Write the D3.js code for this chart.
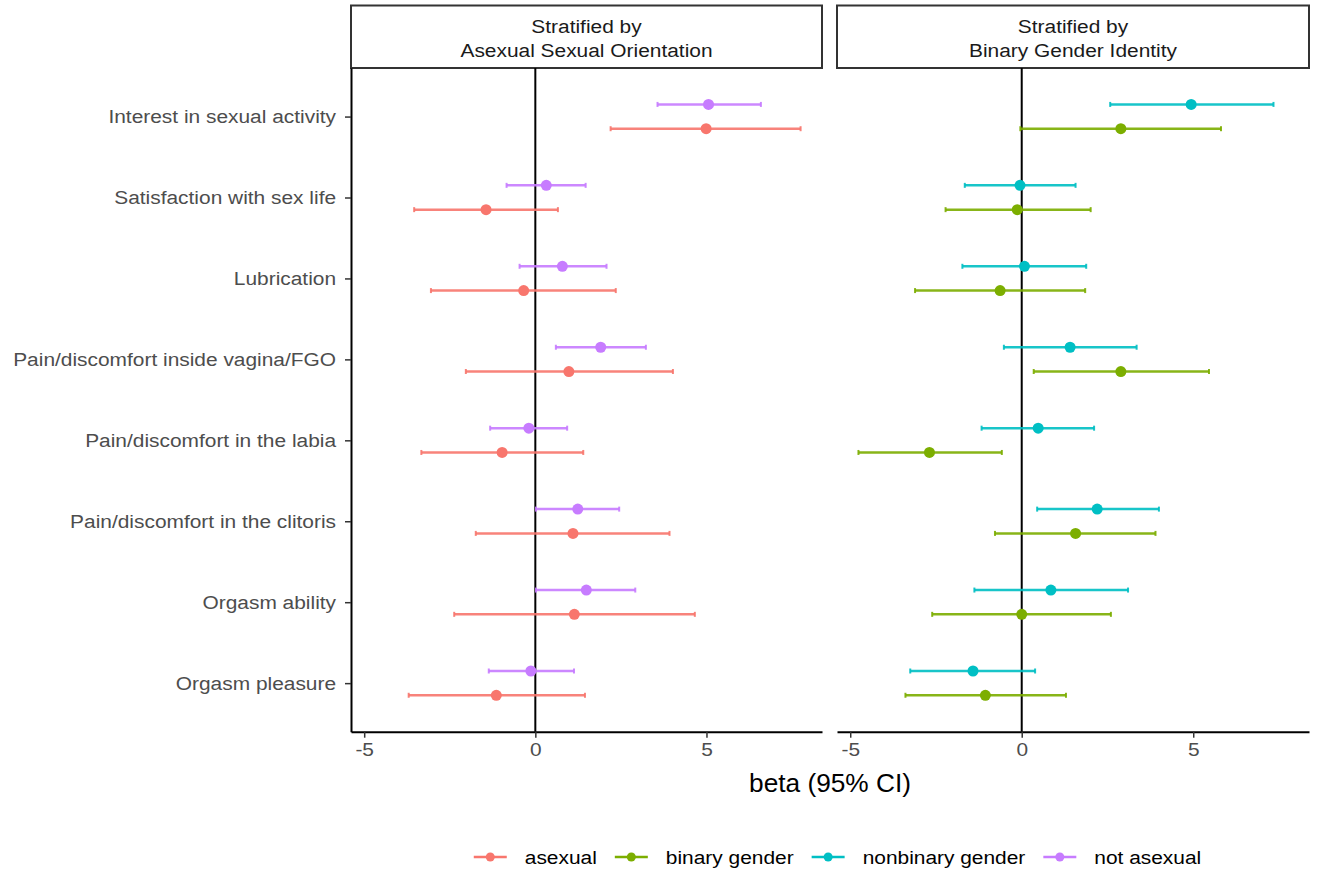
<!DOCTYPE html>
<html><head><meta charset="utf-8">
<script src="https://cdn.jsdelivr.net/npm/d3@7"></script>
<style>
body{margin:0;background:#fff}
text{font-family:"Liberation Sans",Arial,Helvetica,sans-serif}
</style></head>
<body><svg id="c" width="1317" height="873"></svg>
<script>
// ---------------- data ----------------
const categories = [
  "Interest in sexual activity",
  "Satisfaction with sex life",
  "Lubrication",
  "Pain/discomfort inside vagina/FGO",
  "Pain/discomfort in the labia",
  "Pain/discomfort in the clitoris",
  "Orgasm ability",
  "Orgasm pleasure"
];
const xTicks = [-5, 0, 5];
const facetTitles = [
  ["Stratified by", "Asexual Sexual Orientation"],
  ["Stratified by", "Binary Gender Identity"]
];
const legendLabels = ["asexual", "binary gender", "nonbinary gender", "not asexual"];
const legendColors = ["#F8766D", "#7CAE00", "#00BFC4", "#C77CFF"];

const asexualEst = [4.99, -1.44, -0.34, 0.98, -0.97, 1.10, 1.14, -1.14];
const asexualLo  = [2.20, -3.54, -3.05, -2.03, -3.33, -1.74, -2.37, -3.70];
const asexualHi  = [7.75, 0.66, 2.35, 4.02, 1.40, 3.92, 4.66, 1.45];

const notAsexualEst = [5.06, 0.32, 0.79, 1.91, -0.19, 1.24, 1.49, -0.13];
const notAsexualLo  = [3.57, -0.84, -0.46, 0.60, -1.32, 0.02, 0.02, -1.36];
const notAsexualHi  = [6.59, 1.47, 2.08, 3.23, 0.93, 2.45, 2.92, 1.13];

const binaryEst = [2.89, -0.13, -0.63, 2.89, -2.69, 1.57, 0.00, -1.06];
const binaryLo  = [-0.04, -2.22, -3.11, 0.35, -4.76, -0.78, -2.61, -3.39];
const binaryHi  = [5.81, 2.01, 1.85, 5.46, -0.58, 3.90, 2.60, 1.29];

const nonbinaryEst = [4.94, -0.05, 0.08, 1.41, 0.48, 2.20, 0.85, -1.42];
const nonbinaryLo  = [2.58, -1.66, -1.73, -0.52, -1.17, 0.45, -1.38, -3.25];
const nonbinaryHi  = [7.34, 1.57, 1.88, 3.35, 2.11, 4.00, 3.10, 0.39];

// ---------------- layout ----------------
const SX = 1.1;            // horizontal text stretch of the reference
const FS = 19;
const panelTop = 68, panelBottom = 731.7;
const panels = [
  {x0: 351, x1: 822, title: facetTitles[0], series: [
    {name: "asexual", color: legendColors[0], est: asexualEst, lo: asexualLo, hi: asexualHi, dodge: 1},
    {name: "not asexual", color: legendColors[3], est: notAsexualEst, lo: notAsexualLo, hi: notAsexualHi, dodge: -1}
  ]},
  {x0: 837, x1: 1309, title: facetTitles[1], series: [
    {name: "binary gender", color: legendColors[1], est: binaryEst, lo: binaryLo, hi: binaryHi, dodge: 1},
    {name: "nonbinary gender", color: legendColors[2], est: nonbinaryEst, lo: nonbinaryLo, hi: nonbinaryHi, dodge: -1}
  ]}
];

const allVals = [].concat(asexualLo, asexualHi, notAsexualLo, notAsexualHi, binaryLo, binaryHi, nonbinaryLo, nonbinaryHi);
const vmin = d3.min(allVals), vmax = d3.max(allVals);
const pad = (vmax - vmin) * 0.05;
const domain = [vmin - pad, vmax + pad];

const y = d3.scalePoint().domain(categories).range([panelTop, panelBottom]).padding(0.6);
const dodgeOff = 0.15 * y.step();

const svg = d3.select("#c");

panels.forEach((p, pi) => {
  const x = d3.scaleLinear().domain(domain).range([p.x0, p.x1]);
  const g = svg.append("g");

  // strip
  g.append("rect").attr("x", p.x0).attr("y", 5.5).attr("width", p.x1 - p.x0).attr("height", panelTop - 5.5)
    .attr("fill", "#fff").attr("stroke", "#333").attr("stroke-width", 2);
  p.title.forEach((t, i) => {
    g.append("text").attr("transform", `translate(${(p.x0 + p.x1) / 2},${33 + i * 23.5}) scale(${SX},1)`)
      .attr("text-anchor", "middle").attr("font-size", FS).attr("fill", "#1a1a1a").text(t);
  });

  // zero line
  g.append("line").attr("x1", x(0)).attr("x2", x(0)).attr("y1", panelTop).attr("y2", panelBottom)
    .attr("stroke", "#000").attr("stroke-width", 2);

  // x axis
  const ax = g.append("g").attr("transform", `translate(0,${panelBottom})`)
    .call(d3.axisBottom(x).tickValues(xTicks).tickFormat(d3.format("d")).tickSize(6).tickPadding(5).tickSizeOuter(0));
  ax.select(".domain").attr("stroke", "#000").attr("stroke-width", 2);
  ax.selectAll(".tick line").attr("stroke", "#333").attr("stroke-width", 1.5);
  ax.selectAll(".tick text").attr("font-size", FS).attr("fill", "#4d4d4d")
    .attr("font-family", '"Liberation Sans",Arial,sans-serif')
    .attr("transform", `scale(${SX},1)`).text(d => d < 0 ? "-" + Math.abs(d) : d);

  // y axis on first panel only
  if (pi === 0) {
    const ay = g.append("g").attr("transform", `translate(${p.x0},0)`)
      .call(d3.axisLeft(y).tickSize(6).tickPadding(7.6).tickSizeOuter(0));
    ay.select(".domain").attr("stroke", "#000").attr("stroke-width", 2);
    ay.selectAll(".tick line").attr("stroke", "#333").attr("stroke-width", 1.5);
    ay.selectAll(".tick text").attr("font-size", FS).attr("fill", "#4d4d4d")
      .attr("font-family", '"Liberation Sans",Arial,sans-serif')
      .attr("transform", `scale(${SX},1)`);
  }

  // series
  p.series.forEach(s => {
    const sg = g.append("g");
    categories.forEach((c, i) => {
      const yy = y(c) + s.dodge * dodgeOff;
      sg.append("line").attr("x1", x(s.lo[i])).attr("x2", x(s.hi[i])).attr("y1", yy).attr("y2", yy)
        .attr("stroke", s.color).attr("stroke-width", 2.5).attr("opacity", 0.9);
      [s.lo[i], s.hi[i]].forEach(v => {
        sg.append("line").attr("x1", x(v)).attr("x2", x(v)).attr("y1", yy - 2.5).attr("y2", yy + 2.5)
          .attr("stroke", s.color).attr("stroke-width", 2).attr("opacity", 0.9);
      });
      sg.append("circle").attr("cx", x(s.est[i])).attr("cy", yy).attr("r", 5.5).attr("fill", s.color);
    });
  });
});

// axis title
svg.append("text").attr("transform", `translate(${(panels[0].x0 + panels[1].x1) / 2},792) scale(1.05,1)`)
  .attr("text-anchor", "middle").attr("font-size", 25).attr("fill", "#000").text("beta (95% CI)");

// legend
const lg = svg.append("g");
const keyW = 33, keyGap = 18, itemGap = 18, ly = 857;
let items = legendLabels.map((l, i) => {
  const t = lg.append("text").attr("font-size", FS).attr("fill", "#000").text(l);
  return {t, w: t.node().getComputedTextLength() * SX, color: legendColors[i]};
});
const totalW = d3.sum(items, d => keyW + keyGap + d.w) + itemGap * (items.length - 1);
let cx = 837.5 - totalW / 2;
items.forEach(it => {
  lg.append("line").attr("x1", cx).attr("x2", cx + keyW).attr("y1", ly).attr("y2", ly)
    .attr("stroke", it.color).attr("stroke-width", 2.5);
  lg.append("circle").attr("cx", cx + keyW / 2).attr("cy", ly).attr("r", 4.5).attr("fill", it.color);
  it.t.attr("transform", `translate(${cx + keyW + keyGap},${ly + 7}) scale(${SX},1)`);
  cx += keyW + keyGap + it.w + itemGap;
});
</script></body></html>
